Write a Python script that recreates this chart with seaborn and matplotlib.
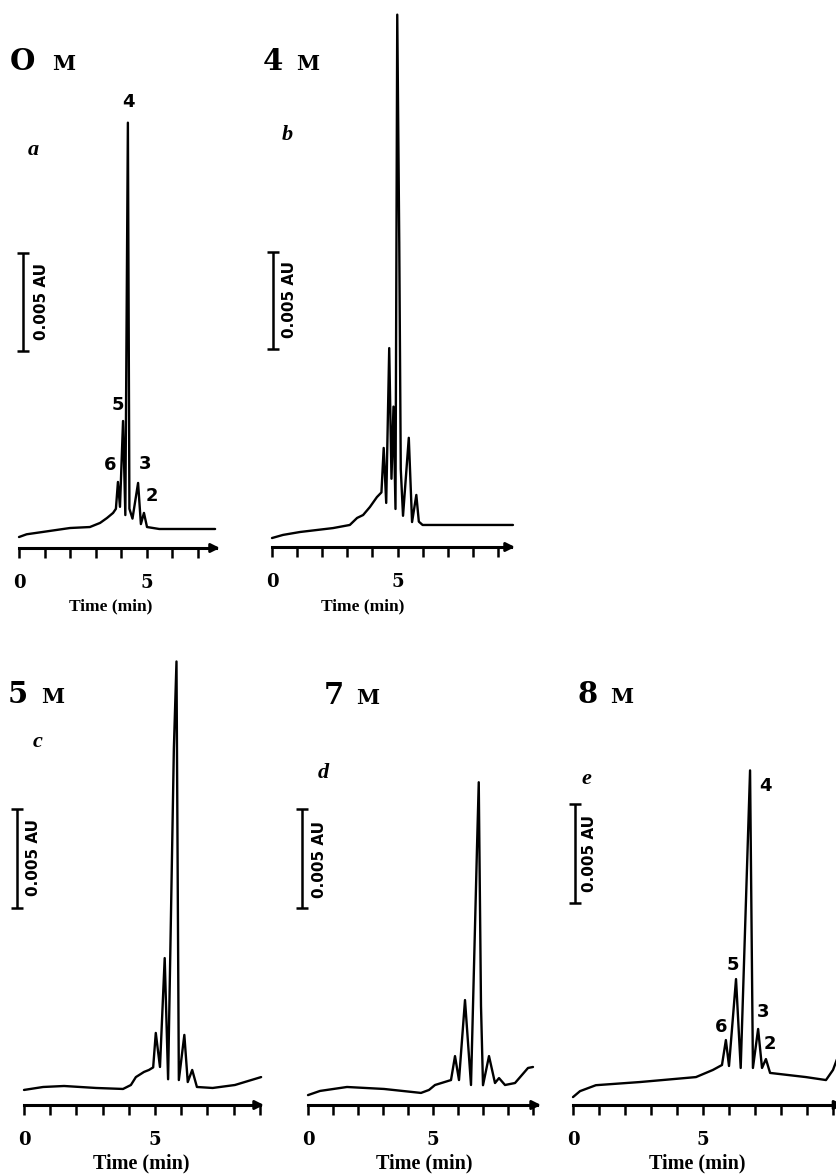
import matplotlib
matplotlib.use("Agg")
import matplotlib.pyplot as plt
import numpy as np
import pandas as pd
import seaborn as sns

sns.set_theme(style="white")
plt.rcParams["font.family"] = ["DejaVu Sans"]
plt.rcParams["text.color"] = "black"

W, H = 836, 1175

# ---------------- data: time (min) and absorbance (mAU) ----------------
time_a = [0.00, 0.30, 0.94, 2.00, 2.78, 3.18, 3.45, 3.69, 3.80, 3.88, 3.96, 4.08, 4.17, 4.27, 4.33, 4.45,
          4.67, 4.78, 4.90, 5.02, 5.50, 7.69]
abs_a = [0.56, 0.70, 0.82, 1.02, 1.07, 1.28, 1.53, 1.79, 2.00, 3.37, 2.10, 6.48, 1.68, 21.7, 2.00, 1.50,
         3.32, 1.22, 1.79, 1.07, 0.97, 0.97]

time_b = [0.00, 0.44, 1.12, 2.43, 3.10, 3.39, 3.63, 3.90, 4.18, 4.36, 4.45, 4.55, 4.67, 4.76, 4.84, 4.92,
          4.99, 5.07, 5.13, 5.22, 5.45, 5.58, 5.75, 5.85, 6.00, 9.60]
abs_b = [0.46, 0.62, 0.77, 0.97, 1.13, 1.49, 1.64, 2.05, 2.56, 2.80, 5.08, 2.26, 10.2, 3.50, 7.20, 1.95,
         27.3, 15.6, 4.00, 1.60, 5.60, 1.28, 2.67, 1.30, 1.13, 1.13]

time_c = [0.00, 0.73, 1.53, 2.75, 3.78, 4.08, 4.27, 4.58, 4.77, 4.93, 5.03, 5.19, 5.37, 5.50, 5.72, 5.82,
          5.91, 6.12, 6.25, 6.42, 6.60, 7.20, 8.05, 9.05]
abs_c = [0.76, 0.91, 0.96, 0.86, 0.81, 1.01, 1.41, 1.67, 1.77, 1.90, 3.64, 1.92, 7.42, 1.30, 18.0, 22.4,
         1.26, 3.54, 1.16, 1.77, 0.91, 0.86, 1.01, 1.41]

time_d = [0.00, 0.48, 1.56, 3.04, 4.52, 4.84, 5.08, 5.72, 5.88, 6.04, 6.28, 6.52, 6.76, 6.83, 6.92, 7.00,
          7.24, 7.48, 7.64, 7.88, 8.28, 8.80, 9.00]
abs_d = [0.50, 0.71, 0.91, 0.81, 0.61, 0.76, 1.01, 1.26, 2.47, 1.26, 5.30, 1.01, 13.0, 16.3, 5.00, 1.00,
         2.47, 1.11, 1.36, 1.01, 1.11, 1.87, 1.92]

time_e = [0.00, 0.27, 0.88, 2.58, 4.73, 5.38, 5.73, 5.88, 6.00, 6.27, 6.45, 6.81, 6.92, 7.12, 7.27, 7.42,
          7.58, 8.96, 9.73, 10.00, 10.15]
abs_e = [0.40, 0.70, 1.00, 1.16, 1.41, 1.77, 2.02, 3.28, 1.97, 6.36, 1.87, 16.9, 1.87, 3.84, 1.87, 2.32,
         1.62, 1.41, 1.26, 1.77, 2.30]

conc_labels = ["O", "4", "5", "7", "8"]
panel_letters = ["a", "b", "c", "d", "e"]
last_tick = [7, 9, 9, 9, 10]
axis_end = [7.88, 9.68, 9.16, 9.32, 10.4]
tick_labels = ["0", "5"]
scale_bar_mAU = 5.0
scale_bar_text = "0.005 AU"
peak_names_a = ["4", "5", "6", "3", "2"]
peak_names_e = ["4", "5", "6", "3", "2"]

traces = [(time_a, abs_a), (time_b, abs_b), (time_c, abs_c), (time_d, abs_d), (time_e, abs_e)]

# ---------------- layout (pixels) ----------------
layout = [
    dict(x0=19, ppm=25.5, y0=548, ppy=19.6, box=(5, 250, 5, 548), bar=(23, 351), bartext=(42, 302),
         title=((22, 70), (64, 70)), letter=(33, 150), xlabel=(111, 606)),
    dict(x0=272, ppm=25.1, y0=547, ppy=19.5, box=(258, 525, 5, 547), bar=(273, 349), bartext=(289, 300),
         title=((273, 70), (308, 70)), letter=(287, 135), xlabel=(363, 606)),
    dict(x0=24, ppm=26.2, y0=1105, ppy=19.8, box=(3, 275, 640, 1105), bar=(17, 908), bartext=(33, 858),
         title=((18, 703), (53, 703)), letter=(38, 742), xlabel=(141, 1163)),
    dict(x0=308, ppm=25.0, y0=1105, ppy=19.8, box=(288, 555, 640, 1105), bar=(302, 908), bartext=(320, 859),
         title=((334, 704), (368, 704)), letter=(323, 773), xlabel=(424, 1163)),
    dict(x0=573, ppm=26.0, y0=1105, ppy=19.8, box=(560, 836, 640, 1105), bar=(575, 903), bartext=(590, 853),
         title=((588, 703), (622, 703)), letter=(586, 779), xlabel=(697, 1163)),
]

peak_label_px_a = [(128, 102), (118, 405), (110, 465), (145, 464), (152, 496)]
peak_label_px_e = [(765, 786), (733, 965), (721, 1027), (763, 1012), (770, 1044)]

fig = plt.figure(figsize=(W / 100, H / 100), dpi=100)
fig.patch.set_facecolor("white")


def fx(x):
    return x / W


def fy(y):
    return 1 - y / H


for i, ((t, s), p) in enumerate(zip(traces, layout)):
    L, R, T, B = p["box"]
    ax = fig.add_axes([fx(L), fy(B), (R - L) / W, (B - T) / H])
    ax.patch.set_alpha(0)
    df = pd.DataFrame({"time": t, "absorbance": s})
    sns.lineplot(data=df, x="time", y="absorbance", ax=ax, color="black",
                 lw=1.7, estimator=None, sort=False)
    ax.set_xlim((L - p["x0"]) / p["ppm"], (R - p["x0"]) / p["ppm"])
    ax.set_ylim(0, (p["y0"] - T) / p["ppy"])
    for sp in ["top", "right", "left"]:
        ax.spines[sp].set_visible(False)
    ax.spines["bottom"].set_color("black")
    ax.spines["bottom"].set_linewidth(2.2)
    ax.spines["bottom"].set_bounds(0, axis_end[i] - 0.15)
    ax.set_yticks([])
    ax.set_xticks([0, 5])
    ax.set_xticklabels(tick_labels, fontfamily="DejaVu Serif", fontweight="bold", fontsize=13)
    ax.set_xticks(np.arange(0, last_tick[i] + 1), minor=True)
    ax.tick_params(axis="x", which="both", direction="out", length=7, width=1.8,
                   color="black", pad=12, bottom=True, labelcolor="black")
    ax.set_xlabel("")
    ax.set_ylabel("")
    ax.annotate("", xy=(axis_end[i], 0), xytext=(axis_end[i] - 0.35, 0),
                arrowprops=dict(arrowstyle="-|>", color="black", lw=2, mutation_scale=13,
                                shrinkA=0, shrinkB=0),
                annotation_clip=False)
    # scale bar (0.005 AU)
    bx, bb = p["bar"]
    tb = (bx - p["x0"]) / p["ppm"]
    sb = (p["y0"] - bb) / p["ppy"]
    ax.errorbar([tb], [sb + scale_bar_mAU / 2], yerr=[scale_bar_mAU / 2], color="black",
                lw=1.8, capsize=4, capthick=1.8, clip_on=False)
    fig.text(fx(p["bartext"][0]), fy(p["bartext"][1]), scale_bar_text, rotation=90,
             ha="center", va="center", fontsize=11, fontweight="bold", family="DejaVu Sans")
    # titles
    (dx, dy), (mx, my) = p["title"]
    fig.text(fx(dx), fy(dy), conc_labels[i], ha="center", va="baseline",
             fontsize=21, fontweight="bold", family="DejaVu Serif")
    fig.text(fx(mx), fy(my), "M", ha="center", va="baseline",
             fontsize=15, fontweight="bold", family="DejaVu Serif")
    fig.text(fx(p["letter"][0]), fy(p["letter"][1]), panel_letters[i], ha="center", va="center",
             fontsize=16, fontstyle="italic", fontweight="bold", family="Liberation Serif")
    fs = 12.5 if i < 2 else 14.5
    fig.text(fx(p["xlabel"][0]), fy(p["xlabel"][1]), "Time (min)", ha="center", va="center",
             fontsize=fs, fontweight="bold", family="Liberation Serif")

for name, (x, y) in zip(peak_names_a, peak_label_px_a):
    fig.text(fx(x), fy(y), name, ha="center", va="center", fontsize=13,
             fontweight="bold", family="DejaVu Sans")
for name, (x, y) in zip(peak_names_e, peak_label_px_e):
    fig.text(fx(x), fy(y), name, ha="center", va="center", fontsize=13,
             fontweight="bold", family="DejaVu Sans")

fig.savefig("out.png", dpi=100, facecolor="white")
